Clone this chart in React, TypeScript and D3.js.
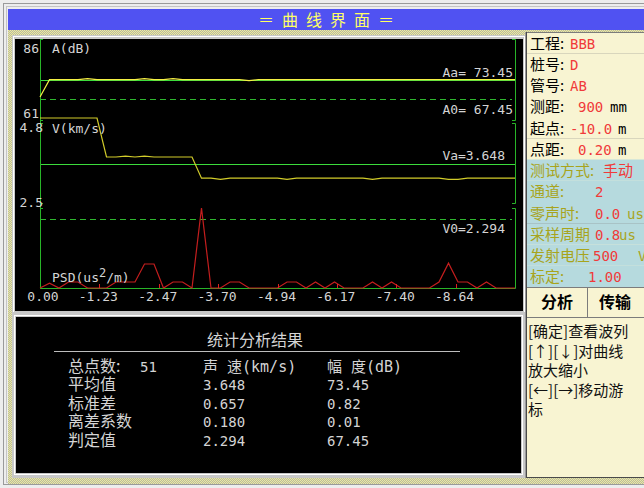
import React from 'react';
import * as d3 from 'd3';

// ---------- data ----------
const xTickLabels = ['0.00', '-1.23', '-2.47', '-3.70', '-4.94', '-6.17', '-7.40', '-8.64'];
const xTickValues = [0, -1.234, -2.468, -3.702, -4.936, -6.17, -7.404, -8.638];

const ampDB = [
  68.1, 73.45, 73.45, 73.45, 73.45, 73.75, 73.45, 73.45, 73.45, 73.45,
  73.45, 73.75, 73.45, 73.45, 73.75, 73.45, 73.45, 73.45, 73.45, 73.45,
  73.45, 73.45, 73.15, 73.45, 73.45, 73.45, 73.45, 73.45, 73.45, 73.45,
  73.45, 73.45, 73.45, 73.45, 73.45, 73.45, 73.45, 73.45, 73.45, 73.45,
  73.45, 73.45, 73.45, 73.45, 73.45, 73.45, 73.45, 73.45, 73.45, 73.45, 73.45,
];

const velKms = [
  4.78, 4.78, 4.78, 4.78, 4.78, 4.78, 4.78,
  3.82, 3.82, 3.84, 3.82, 3.84, 3.82, 3.82, 3.82, 3.82, 3.82,
  3.30, 3.30, 3.27, 3.30, 3.30, 3.30, 3.30, 3.30, 3.30, 3.27,
  3.30, 3.30, 3.30, 3.30, 3.30, 3.30, 3.30, 3.30, 3.27, 3.30,
  3.30, 3.30, 3.30, 3.30, 3.30, 3.30, 3.27, 3.27, 3.30, 3.30,
  3.30, 3.30, 3.30, 3.30,
];

const psd = [
  0, 0.12, 0, 0.15, 0.15, 0, 0, 0, 0.15, 0.15,
  0.15, 0.6, 0.6, 0, 0.15, 0.15, 0, 2.0, 0, 0,
  0.15, 0.15, 0, 0, 0, 0, 0.15, 0.15, 0, 0.15,
  0, 0.15, 0, 0, 0, 0.15, 0, 0.15, 0, 0,
  0, 0, 0.15, 0.62, 0.15, 0.15, 0, 0.15, 0, 0, 0,
];

const ampAvg = 73.45;
const ampCrit = 67.45;
const velAvg = 3.648;
const velCrit = 2.294;

const infoLabels = ['工程:', '桩号:', '管号:', '测距:', '起点:', '点距:', '测试方式:', '通道:', '零声时:', '采样周期', '发射电压', '标定:'];
const infoValues = ['BBB', 'D', 'AB', '900', '-10.0', '0.20', '手动', '2', '0.0', '0.8', '500', '1.00'];
const infoUnits = ['', '', '', 'mm', 'm', 'm', '', '', 'us', 'us', 'V', ''];

const buttonLabels = ['分析', '传输'];
const helpLines = ['[确定]查看波列', '[↑][↓]对曲线', '放大缩小', '[←][→]移动游', '标'];

const statsTitle = '统计分析结果';
const statsRowLabels = ['平均值', '标准差', '离差系数', '判定值'];
const statsVel = ['3.648', '0.657', '0.180', '2.294'];
const statsAmp = ['73.45', '0.82', '0.01', '67.45'];
const totalPoints = '51';

// ---------- styles ----------
const fMono = "'DejaVu Sans Mono', monospace";
const fCJK = "'Noto Sans CJK SC', 'DejaVu Sans', sans-serif";
const fMix = "'DejaVu Sans Mono', 'Noto Sans CJK SC', monospace";
const txtGray = '#D4D4D4';
const green = '#3CDC3C';
const axisGreen = '#28B428';
const dashGreen = '#30B830';
const red = '#F03A3A';
const olive = '#A8A41C';

export default function App() {
  const xIdx = d3.scaleLinear().domain([0, ampDB.length - 1]).range([40, 515]);
  const xDist = d3.scaleLinear().domain([0, -9.872]).range([40, 515]);
  const yA = d3.scaleLinear().domain([61, 86]).range([120, 39]);
  const yV = d3.scaleLinear().domain([velCrit, velAvg]).range([219, 164]);
  const yP = d3.scaleLinear().domain([0, 2]).range([288, 208]);

  const lineA = d3.line<number>().x((_, i) => xIdx(i)).y((d) => yA(d))(ampDB) || '';
  const lineV = d3.line<number>().x((_, i) => xIdx(i)).y((d) => yV(d))(velKms) || '';
  const lineP = d3.line<number>().x((_, i) => xIdx(i)).y((d) => yP(d))(psd) || '';

  const x0 = xIdx(0);
  const x1 = xIdx(ampDB.length - 1);
  const sections = [
    [yA(86), yA(61)],
    [123, 203],
    [208, yP(0)],
  ];

  const rowTop = (i: number) => 32 + i * 21.25;
  const valueX = [570, 570, 570, 578, 570, 578, 603, 595, 595, 595, 593, 588];
  const unitX = [0, 0, 0, 610, 618, 618, 0, 0, 627, 619, 638, 0];

  return (
    <svg
      width={644}
      height={488}
      style={{ position: 'absolute', left: 0, top: 0, display: 'block' }}
    >
      <defs>
        <pattern id="dither" width={2} height={2} patternUnits="userSpaceOnUse">
          <rect width={2} height={2} fill="#B8B8A4" />
          <rect width={1} height={1} fill="#EEEC9C" />
          <rect x={1} y={1} width={1} height={1} fill="#EEEC9C" />
        </pattern>
      </defs>

      {/* window background */}
      <rect x={0} y={0} width={644} height={488} fill="#EDEDED" />
      <rect x={3.5} y={3.5} width={660} height={481} fill="none" stroke="#9A9A9A" />
      <rect x={6.5} y={6.5} width={660} height={476} fill="none" stroke="#C4C4C4" />
      <rect x={8} y={30} width={636} height={454} fill="url(#dither)" />

      {/* title bar */}
      <rect x={8} y={9} width={636} height={21} fill="#5052F2" />
      <text x={330} y={26} textAnchor="middle" fill="#FFFF66" fontFamily={fCJK} fontSize={16} letterSpacing={8}>
        ＝曲线界面＝
      </text>

      {/* chart panel frame */}
      <rect x={12} y={35} width={514} height={280} fill="#C8C8C8" />
      <rect x={13.5} y={36.5} width={511} height={277} fill="none" stroke="#FFFFFF" />
      <rect x={15} y={39} width={508} height={272} fill="#000000" />

      {/* reference lines */}
      <line x1={x0} x2={x1} y1={Math.round(yA(ampAvg)) + 0.5} y2={Math.round(yA(ampAvg)) + 0.5} stroke={green} />
      <line x1={x0} x2={512} y1={Math.round(yA(ampCrit)) + 0.5} y2={Math.round(yA(ampCrit)) + 0.5} stroke={dashGreen} strokeDasharray="6,4" />
      <line x1={x0} x2={x1} y1={Math.round(yV(velAvg)) + 0.5} y2={Math.round(yV(velAvg)) + 0.5} stroke={green} />
      <line x1={x0} x2={512} y1={Math.round(yV(velCrit)) + 0.5} y2={Math.round(yV(velCrit)) + 0.5} stroke={dashGreen} strokeDasharray="6,4" />

      {/* axes */}
      <line x1={x0 + 0.5} x2={x0 + 0.5} y1={sections[0][0]} y2={yP(0)} stroke={axisGreen} />
      <line x1={x0} x2={x1} y1={yP(0) + 0.5} y2={yP(0) + 0.5} stroke={axisGreen} />
      {sections.map(([t, b], i) => (
        <g key={i}>
          <path d={`M${x1 - 3},${t + 0.5}H${x1 + 0.5}V${b + 0.5}H${x1 - 3}`} fill="none" stroke={axisGreen} />
          <path d={`M${x0 + 3},${t + 0.5}H${x0 + 0.5}`} fill="none" stroke={axisGreen} />
          <path d={`M${x0 + 3},${b + 0.5}H${x0 + 0.5}`} fill="none" stroke={axisGreen} />
        </g>
      ))}

      {/* traces */}
      <path d={lineP} fill="none" stroke="#C41E1E" strokeWidth={1.2} />
      {xTickValues.slice(1).map((v, i) => (
        <line key={i} x1={Math.round(xDist(v)) + 0.5} x2={Math.round(xDist(v)) + 0.5} y1={yP(0) - 4} y2={yP(0)} stroke="#E02020" />
      ))}
      <path d={lineV} fill="none" stroke="#D2CC2A" strokeWidth={1.2} />
      <path d={lineA} fill="none" stroke="#F4F044" strokeWidth={1.2} />

      {/* axis texts */}
      <g fontFamily={fMono} fontSize={13} fill={txtGray}>
        <text x={39} y={53} textAnchor="end">86</text>
        <text x={52} y={53}>A(dB)</text>
        <text x={39} y={118} textAnchor="end">61</text>
        <text x={43} y={132} textAnchor="end">4.8</text>
        <text x={52} y={133}>V(km/s)</text>
        <text x={43} y={207} textAnchor="end">2.5</text>
        <text x={52} y={282}>PSD(us<tspan dy={-5} fontSize={12}>2</tspan><tspan dy={5}>/m)</tspan></text>
        <text x={513} y={77} textAnchor="end">{`Aa= ${ampAvg.toFixed(2)}`}</text>
        <text x={513} y={114} textAnchor="end">{`A0= ${ampCrit.toFixed(2)}`}</text>
        <text x={505} y={160} textAnchor="end">{`Va=${velAvg.toFixed(3)}`}</text>
        <text x={505} y={233} textAnchor="end">{`V0=${velCrit.toFixed(3)}`}</text>
        {xTickLabels.map((l, i) => (
          <text key={l} x={xDist(xTickValues[i]) + (i === 0 ? 3 : -1)} y={301} textAnchor="middle">{l}</text>
        ))}
      </g>

      {/* stats panel */}
      <rect x={12} y={312} width={514} height={166} fill="#C8C8C8" />
      <rect x={14.5} y={315.5} width={508} height={159} fill="none" stroke="#FFFFFF" />
      <rect x={16} y={317} width={505} height={156} fill="#000000" />
      <text x={255} y={346} textAnchor="middle" fill={txtGray} fontFamily={fCJK} fontSize={16}>{statsTitle}</text>
      <line x1={54} x2={460} y1={351.5} y2={351.5} stroke="#BDBDBD" />
      <g fill={txtGray}>
        <text x={68} y={372} fontFamily={fCJK} fontSize={16}>总点数:</text>
        <text x={140} y={372} fontFamily={fMono} fontSize={14}>{totalPoints}</text>
        <text x={203} y={372} fontFamily={fMix} fontSize={15}>声 速(km/s)</text>
        <text x={327} y={372} fontFamily={fMix} fontSize={15}>幅 度(dB)</text>
        {statsRowLabels.map((l, i) => (
          <g key={l}>
            <text x={68} y={390 + i * 18.7} fontFamily={fCJK} fontSize={16}>{l}</text>
            <text x={203} y={390 + i * 18.7} fontFamily={fMono} fontSize={14}>{statsVel[i]}</text>
            <text x={203 + 124} y={390 + i * 18.7} fontFamily={fMono} fontSize={14}>{statsAmp[i]}</text>
          </g>
        ))}
      </g>

      {/* right info panel */}
      <rect x={527} y={32} width={117} height={446} fill="#F8F4D2" />
      {infoLabels.map((l, i) => {
        const top = rowTop(i);
        const blue = i >= 6;
        const lc = blue ? olive : '#000000';
        return (
          <g key={l}>
            <rect x={527} y={top} width={117} height={21.25} fill={blue ? '#B6DADE' : '#F8F4D2'} />
            <line x1={527} x2={644} y1={Math.round(top + 21.25) + 0.5} y2={Math.round(top + 21.25) + 0.5} stroke="#7C7C7C" />
            <text x={530} y={top + 16.5} fill={lc} fontFamily={fCJK} fontSize={15}>{l}</text>
            <text x={valueX[i]} y={top + 16.5} fill={red} fontFamily={i === 6 ? fCJK : fMono} fontSize={i === 6 ? 15 : 14}>{infoValues[i]}</text>
            {infoUnits[i] && (
              <text x={unitX[i]} y={top + 16.5} fill={lc} fontFamily={fMono} fontSize={14}>{infoUnits[i]}</text>
            )}
          </g>
        );
      })}
      <line x1={527} x2={644} y1={32.5} y2={32.5} stroke="#7C7C7C" />
      {/* buttons */}
      <line x1={587.5} x2={587.5} y1={287} y2={317} stroke="#7C7C7C" />
      <line x1={527} x2={644} y1={317.5} y2={317.5} stroke="#7C7C7C" />
      {buttonLabels.map((b, i) => (
        <text key={b} x={557 + i * 58} y={308} textAnchor="middle" fill="#000" fontFamily={fCJK} fontSize={16} fontWeight={700}>{b}</text>
      ))}
      {helpLines.map((h, i) => (
        <text key={i} x={528} y={337 + i * 19.5} fill="#111" fontFamily={fCJK} fontSize={15}>{h}</text>
      ))}
      <line x1={527} x2={644} y1={477.5} y2={477.5} stroke="#4A4A4A" />
      <line x1={526.5} x2={526.5} y1={32} y2={478} stroke="#4A4A4A" />
      <line x1={525.5} x2={525.5} y1={32} y2={478} stroke="#9A9A9A" />
    </svg>
  );
}
